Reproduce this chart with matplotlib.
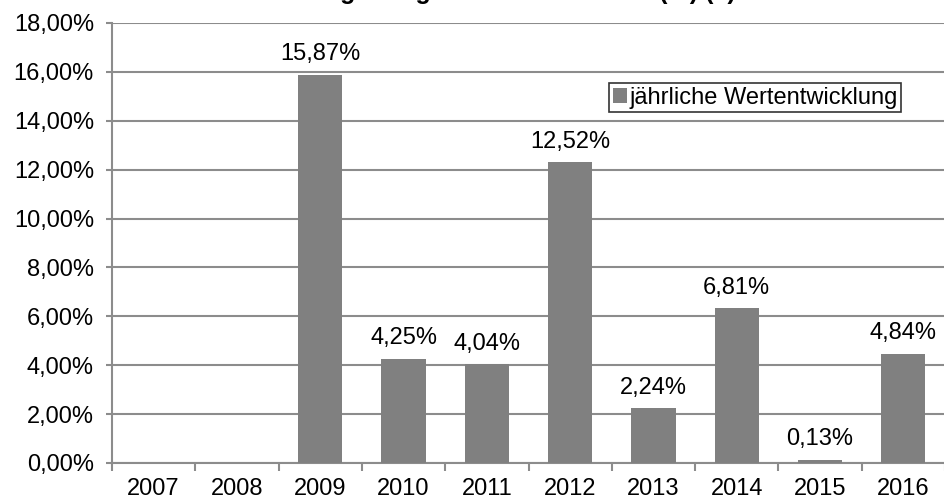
import matplotlib
matplotlib.use("Agg")
import matplotlib.pyplot as plt
from matplotlib.ticker import FuncFormatter, FixedLocator
import numpy as np

plt.rcParams['font.family'] = ['Liberation Sans', 'DejaVu Sans']

years = ['2007', '2008', '2009', '2010', '2011', '2012', '2013', '2014', '2015', '2016']
bar_values = [0, 0, 15.87, 4.25, 4.04, 12.30, 2.24, 6.33, 0.12, 4.46]
label_texts = [None, None, '15,87%', '4,25%', '4,04%', '12,52%', '2,24%', '6,81%', '0,13%', '4,84%']
series_name = 'jährliche Wertentwicklung'
title_text = 'Wertentwicklung Anlage des Musterfonds (%) (€)'

bar_color = '#808080'
grid_color = '#8c8c8c'
fs = 17

fig = plt.figure(figsize=(9.45, 4.99), dpi=100)
ax = fig.add_axes([112/945, 36/499, 833/945, 440/499])

x = np.arange(len(years))
bars = ax.bar(x, bar_values, width=0.53, color=bar_color, linewidth=0, label=series_name, zorder=3)
for b, t in zip(bars, label_texts):
    if t is None:
        continue
    ax.annotate(t, (b.get_x() + b.get_width()/2, b.get_height()), xytext=(0, 7),
                textcoords='offset points', ha='center', va='bottom', fontsize=fs)

ax.set_xlim(-0.5, len(years) - 0.5)
ax.set_ylim(0, 18)
ax.set_yticks(np.arange(0, 18.01, 2))
ax.yaxis.set_major_formatter(FuncFormatter(lambda v, p: f'{v:.2f}'.replace('.', ',') + '%'))
ax.grid(axis='y', color=grid_color, linewidth=1.5, zorder=0)
ax.set_axisbelow(True)

ax.set_xticks(x)
ax.set_xticklabels(years)
ax.xaxis.set_minor_locator(FixedLocator(np.arange(-0.5, len(years), 1)))
ax.tick_params(axis='x', which='major', length=0, pad=11, labelsize=fs)
ax.tick_params(axis='x', which='minor', length=6, width=1.5, color=grid_color, direction='out')
ax.tick_params(axis='y', which='major', length=4, width=1.5, color=grid_color, direction='out', labelsize=fs, pad=9)

for s in ['top', 'right']:
    ax.spines[s].set_visible(False)
for s in ['left', 'bottom']:
    ax.spines[s].set_color(grid_color)
    ax.spines[s].set_linewidth(1.5)

leg = ax.legend(loc='center', bbox_to_anchor=(0.772, 0.83), fontsize=fs, frameon=True,
                fancybox=False, edgecolor='black', handlelength=0.6, handleheight=0.6,
                handletextpad=0.1, borderpad=0.15, borderaxespad=0)
leg.get_frame().set_linewidth(1.2)

fig.text(0.472, 1.0 + 1/499, title_text, ha='center', va='baseline', fontsize=18, fontweight='bold')

fig.savefig('out.png', dpi=100)
